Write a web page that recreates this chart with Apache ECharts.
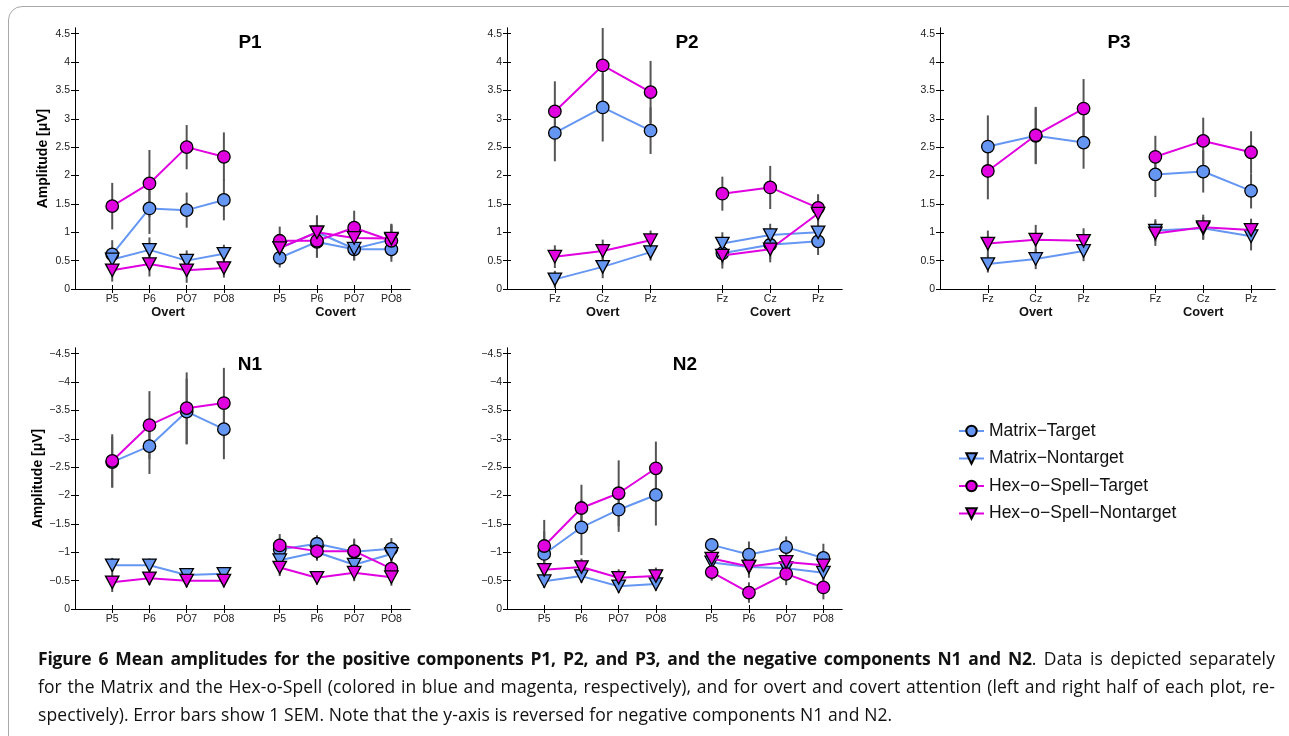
<!DOCTYPE html>
<html>
<head>
<meta charset="utf-8">
<script src="https://cdn.jsdelivr.net/npm/echarts@6/dist/echarts.min.js"></script>
<style>
  html, body { margin:0; padding:0; background:#fff; width:1289px; height:736px; overflow:hidden; }
  #frame { position:absolute; left:8px; top:6px; width:1320px; height:745px; border:1px solid #a8a8a8; border-radius:14px; box-sizing:border-box; }
  #chart { position:absolute; left:0; top:0; width:1289px; height:736px; }
  #caption { position:absolute; left:38px; top:644px; width:1237px; font-family:"Open Sans","Noto Sans",sans-serif; font-size:17.5px; letter-spacing:0.1px; color:#111; line-height:28px; }
  .jl { text-align:justify; text-align-last:justify; white-space:nowrap; }
  .ll { text-align:left; white-space:nowrap; }
  #caption b { letter-spacing:-0.2px; }
</style>
</head>
<body>
<div id="frame"></div>
<div id="chart"></div>
<div id="caption">
  <div class="jl"><b>Figure 6 Mean amplitudes for the positive components P1, P2, and P3, and the negative components N1 and N2</b>. Data is depicted separately</div>
  <div class="jl">for the Matrix and the Hex-o-Spell (colored in blue and magenta, respectively), and for overt and covert attention (left and right half of each plot, re-</div>
  <div class="ll">spectively). Error bars show 1 SEM. Note that the y-axis is reversed for negative components N1 and N2.</div>
</div>
<script>
// ---------- data ----------
const seriesNames = ['Matrix\u2212Target', 'Matrix\u2212Nontarget', 'Hex\u2212o\u2212Spell\u2212Target', 'Hex\u2212o\u2212Spell\u2212Nontarget'];
const conditionLabels = ['Overt', 'Covert'];
const parietalElectrodes = ['P5', 'P6', 'PO7', 'PO8'];
const midlineElectrodes = ['Fz', 'Cz', 'Pz'];
const positiveTicks = [0, 0.5, 1, 1.5, 2, 2.5, 3, 3.5, 4, 4.5];
const negativeTicks = [0, -0.5, -1, -1.5, -2, -2.5, -3, -3.5, -4, -4.5];

// values: overt electrodes first, then covert electrodes
const p1MatrixTarget      = [0.61, 1.42, 1.39, 1.57, 0.55, 0.83, 0.70, 0.70];
const p1MatrixTargetSem   = [0.25, 0.45, 0.31, 0.36, 0.17, 0.27, 0.20, 0.22];
const p1MatrixNontarget   = [0.52, 0.69, 0.50, 0.62, 0.72, 1.00, 0.71, 0.87];
const p1MatrixNontargetSem= [0.20, 0.22, 0.18, 0.16, 0.20, 0.30, 0.20, 0.25];
const p1HexTarget         = [1.46, 1.86, 2.50, 2.33, 0.85, 0.85, 1.08, 0.85];
const p1HexTargetSem      = [0.41, 0.59, 0.39, 0.43, 0.25, 0.30, 0.30, 0.30];
const p1HexNontarget      = [0.33, 0.44, 0.33, 0.37, 0.72, 1.00, 0.90, 0.89];
const p1HexNontargetSem   = [0.20, 0.22, 0.22, 0.17, 0.25, 0.28, 0.25, 0.25];

const p2MatrixTarget      = [2.75, 3.20, 2.79, 0.63, 0.78, 0.84];
const p2MatrixTargetSem   = [0.50, 0.60, 0.41, 0.20, 0.25, 0.24];
const p2MatrixNontarget   = [0.17, 0.39, 0.65, 0.80, 0.95, 1.00];
const p2MatrixNontargetSem= [0.15, 0.20, 0.15, 0.20, 0.20, 0.20];
const p2HexTarget         = [3.13, 3.94, 3.47, 1.68, 1.79, 1.43];
const p2HexTargetSem      = [0.53, 0.75, 0.55, 0.30, 0.38, 0.24];
const p2HexNontarget      = [0.57, 0.67, 0.86, 0.59, 0.70, 1.33];
const p2HexNontargetSem   = [0.20, 0.20, 0.17, 0.23, 0.23, 0.33];

const p3MatrixTarget      = [2.51, 2.70, 2.58, 2.02, 2.07, 1.73];
const p3MatrixTargetSem   = [0.55, 0.50, 0.46, 0.40, 0.37, 0.31];
const p3MatrixNontarget   = [0.44, 0.53, 0.67, 1.03, 1.07, 0.93];
const p3MatrixNontargetSem= [0.15, 0.18, 0.18, 0.20, 0.20, 0.25];
const p3HexTarget         = [2.08, 2.71, 3.18, 2.33, 2.61, 2.41];
const p3HexTargetSem      = [0.50, 0.50, 0.52, 0.37, 0.41, 0.37];
const p3HexNontarget      = [0.80, 0.87, 0.85, 0.98, 1.09, 1.04];
const p3HexNontargetSem   = [0.23, 0.26, 0.22, 0.22, 0.22, 0.20];

const n1MatrixTarget      = [-2.59, -2.87, -3.48, -3.17, -1.05, -1.15, -1.01, -1.06];
const n1MatrixTargetSem   = [0.45, 0.49, 0.58, 0.53, 0.20, 0.15, 0.20, 0.19];
const n1MatrixNontarget   = [-0.77, -0.77, -0.60, -0.62, -0.86, -1.00, -0.78, -0.97];
const n1MatrixNontargetSem= [0.13, 0.12, 0.12, 0.10, 0.15, 0.15, 0.15, 0.15];
const n1HexTarget         = [-2.61, -3.24, -3.54, -3.63, -1.12, -1.02, -1.02, -0.71];
const n1HexTargetSem      = [0.47, 0.60, 0.63, 0.62, 0.20, 0.15, 0.22, 0.19];
const n1HexNontarget      = [-0.47, -0.54, -0.50, -0.50, -0.73, -0.55, -0.64, -0.56];
const n1HexNontargetSem   = [0.17, 0.12, 0.12, 0.12, 0.15, 0.12, 0.15, 0.15];

const n2MatrixTarget      = [-0.97, -1.44, -1.75, -2.01, -1.13, -0.96, -1.09, -0.90];
const n2MatrixTargetSem   = [0.40, 0.49, 0.39, 0.54, 0.12, 0.23, 0.19, 0.25];
const n2MatrixNontarget   = [-0.49, -0.58, -0.40, -0.44, -0.82, -0.74, -0.72, -0.64];
const n2MatrixNontargetSem= [0.12, 0.12, 0.12, 0.12, 0.15, 0.15, 0.15, 0.15];
const n2HexTarget         = [-1.11, -1.78, -2.04, -2.48, -0.65, -0.29, -0.62, -0.38];
const n2HexTargetSem      = [0.46, 0.41, 0.58, 0.47, 0.15, 0.18, 0.20, 0.21];
const n2HexNontarget      = [-0.69, -0.74, -0.55, -0.58, -0.89, -0.75, -0.83, -0.77];
const n2HexNontargetSem   = [0.15, 0.15, 0.15, 0.15, 0.15, 0.20, 0.15, 0.15];

// ---------- panel definitions ----------
const panels = [
  { title:'P1', electrodes:parietalElectrodes, neg:false, yName:true, cond:true,
    grid:{left:75, top:28, width:335, height:261}, titlePos:[250, 33],
    values:[p1MatrixTarget,p1MatrixNontarget,p1HexTarget,p1HexNontarget],
    sems:[p1MatrixTargetSem,p1MatrixNontargetSem,p1HexTargetSem,p1HexNontargetSem] },
  { title:'P2', electrodes:midlineElectrodes, neg:false, yName:false, cond:true,
    grid:{left:507, top:28, width:335, height:261}, titlePos:[687, 33],
    values:[p2MatrixTarget,p2MatrixNontarget,p2HexTarget,p2HexNontarget],
    sems:[p2MatrixTargetSem,p2MatrixNontargetSem,p2HexTargetSem,p2HexNontargetSem] },
  { title:'P3', electrodes:midlineElectrodes, neg:false, yName:false, cond:true,
    grid:{left:940, top:28, width:335, height:261}, titlePos:[1119, 33],
    values:[p3MatrixTarget,p3MatrixNontarget,p3HexTarget,p3HexNontarget],
    sems:[p3MatrixTargetSem,p3MatrixNontargetSem,p3HexTargetSem,p3HexNontargetSem] },
  { title:'N1', electrodes:parietalElectrodes, neg:true, yName:true, cond:false,
    grid:{left:75, top:348, width:335, height:261}, titlePos:[250, 355],
    values:[n1MatrixTarget,n1MatrixNontarget,n1HexTarget,n1HexNontarget],
    sems:[n1MatrixTargetSem,n1MatrixNontargetSem,n1HexTargetSem,n1HexNontargetSem] },
  { title:'N2', electrodes:parietalElectrodes, neg:true, yName:false, cond:false,
    grid:{left:507, top:348, width:335, height:261}, titlePos:[685, 355],
    values:[n2MatrixTarget,n2MatrixNontarget,n2HexTarget,n2HexNontarget],
    sems:[n2MatrixTargetSem,n2MatrixNontargetSem,n2HexTargetSem,n2HexNontargetSem] }
];

const BLUE = '#6496f2', MAGENTA = '#e000e0';
const colors = [BLUE, BLUE, MAGENTA, MAGENTA];
const symbols = ['circle', 'triangle', 'circle', 'triangle'];
const FONT = '"Liberation Sans", Helvetica, Arial, sans-serif';

const grids = [], xAxes = [], yAxes = [], series = [], titles = [];

panels.forEach((p, gi) => {
  const n = p.electrodes.length;
  const overtX = p.electrodes.map((_, i) => i + 1);
  const covertX = p.electrodes.map((_, i) => n + 1.5 + i);
  const allX = overtX.concat(covertX);
  const labelOf = {};
  allX.forEach((x, i) => { labelOf[x.toFixed(2)] = p.electrodes[i % n]; });
  const xMax = 2 * n + 1;
  const condX = [(1 + n) / 2, n + 1.5 + (n - 1) / 2];

  grids.push(Object.assign({ containLabel:false, show:false }, p.grid));
  titles.push({ text:p.title, left:p.titlePos[0], top:p.titlePos[1], textAlign:'center', padding:0,
    textStyle:{ fontFamily:FONT, fontSize:19, fontWeight:'bold', color:'#000' } });

  const lineStyle = { show:true, lineStyle:{ color:'#000', width:1 } };
  const xi = xAxes.length;
  xAxes.push({ type:'value', gridIndex:gi, min:0, max:xMax, position:'bottom',
    axisLine:lineStyle, splitLine:{show:false},
    axisTick:{ show:true, inside:true, length:4, customValues:allX, lineStyle:{color:'#000'} },
    axisLabel:{ show:true, customValues:allX, margin:5, fontFamily:FONT, fontSize:10.5, color:'#222',
      formatter:(v) => labelOf[Number(v).toFixed(2)] || '' } });
  xAxes.push({ type:'value', gridIndex:gi, min:0, max:xMax, position:'top',
    axisLine:lineStyle, splitLine:{show:false},
    axisTick:{ show:true, inside:true, length:4, customValues:allX, lineStyle:{color:'#000'} },
    axisLabel:{ show:false } });
  xAxes.push({ type:'value', gridIndex:gi, min:0, max:xMax, position:'bottom',
    axisLine:{show:false}, splitLine:{show:false}, axisTick:{show:false},
    axisLabel:{ show:p.cond, customValues:condX, margin:17, fontFamily:FONT, fontSize:12.8, fontWeight:'bold', color:'#111',
      formatter:(v) => (Math.abs(v - condX[0]) < 1e-6 ? conditionLabels[0] : conditionLabels[1]) } });

  const ticks = p.neg ? negativeTicks : positiveTicks;
  const yMin = p.neg ? -4.6 : 0, yMax = p.neg ? 0 : 4.6;
  const fmt = (v) => { v = Number(v); if (Math.abs(v) < 1e-9) return '0'; return (v < 0 ? '\u2212' : '') + String(Math.abs(v)); };
  const yi = yAxes.length;
  yAxes.push({ type:'value', gridIndex:gi, min:yMin, max:yMax, inverse:p.neg, position:'left',
    name: p.yName ? 'Amplitude [\u03bcV]' : '', nameLocation:'middle', nameGap:25, nameRotate:90,
    nameTextStyle:{ fontFamily:FONT, fontSize:14, fontWeight:'bold', color:'#000' },
    axisLine:lineStyle, splitLine:{show:false},
    axisTick:{ show:true, inside:true, length:4, customValues:ticks, lineStyle:{color:'#000'} },
    axisLabel:{ show:true, customValues:ticks, margin:5, fontFamily:FONT, fontSize:10.5, color:'#222', formatter:fmt } });
  yAxes.push({ type:'value', gridIndex:gi, min:yMin, max:yMax, inverse:p.neg, position:'right',
    axisLine:lineStyle, splitLine:{show:false},
    axisTick:{ show:true, inside:true, length:4, customValues:ticks, lineStyle:{color:'#000'} },
    axisLabel:{ show:false } });

  const errData = [];
  p.values.forEach((vals, si) => {
    vals.forEach((v, i) => errData.push([allX[i], v, p.sems[si][i]]));
  });
  series.push({ type:'custom', xAxisIndex:xi, yAxisIndex:yi, clip:true, z:1, silent:true,
    data:errData, encode:{ x:0, y:1 },
    renderItem:(params, api) => {
      const x = api.value(0), m = api.value(1), s = api.value(2);
      const a = api.coord([x, m - s]), b = api.coord([x, m + s]);
      return { type:'line', shape:{ x1:a[0], y1:a[1], x2:b[0], y2:b[1] },
        style:{ stroke:'#555', lineWidth:2 } };
    } });

  p.values.forEach((vals, si) => {
    [[0, n], [n, 2 * n]].forEach(([s0, s1]) => {
      const d = [];
      for (let i = s0; i < s1; i++) d.push([allX[i], vals[i]]);
      series.push({ type:'line', name:seriesNames[si], xAxisIndex:xi, yAxisIndex:yi, z:2 + (si >= 2 ? 1 : 0),
        data:d, symbol:symbols[si], symbolSize: symbols[si] === 'circle' ? 12.5 : [13.5, 12.5],
        symbolRotate: symbols[si] === 'triangle' ? 180 : 0, showAllSymbol:true,
        lineStyle:{ color:colors[si], width:2 },
        itemStyle:{ color:colors[si], borderColor:'#000', borderWidth:1.3 },
        emphasis:{ disabled:true }, animation:false });
    });
  });
});

const chart = echarts.init(document.getElementById('chart'), null, { renderer:'canvas' });
chart.setOption({
  animation:false,
  backgroundColor:'transparent',
  title:titles,
  grid:grids,
  xAxis:xAxes,
  yAxis:yAxes,
  legend:{ data:seriesNames, orient:'vertical', left:953, top:417, itemWidth:25, itemHeight:13, itemGap:9.5,
    textStyle:{ fontFamily:FONT, fontSize:17.5, color:'#111' }, selectedMode:false },
  series:series
});
</script>
</body>
</html>
